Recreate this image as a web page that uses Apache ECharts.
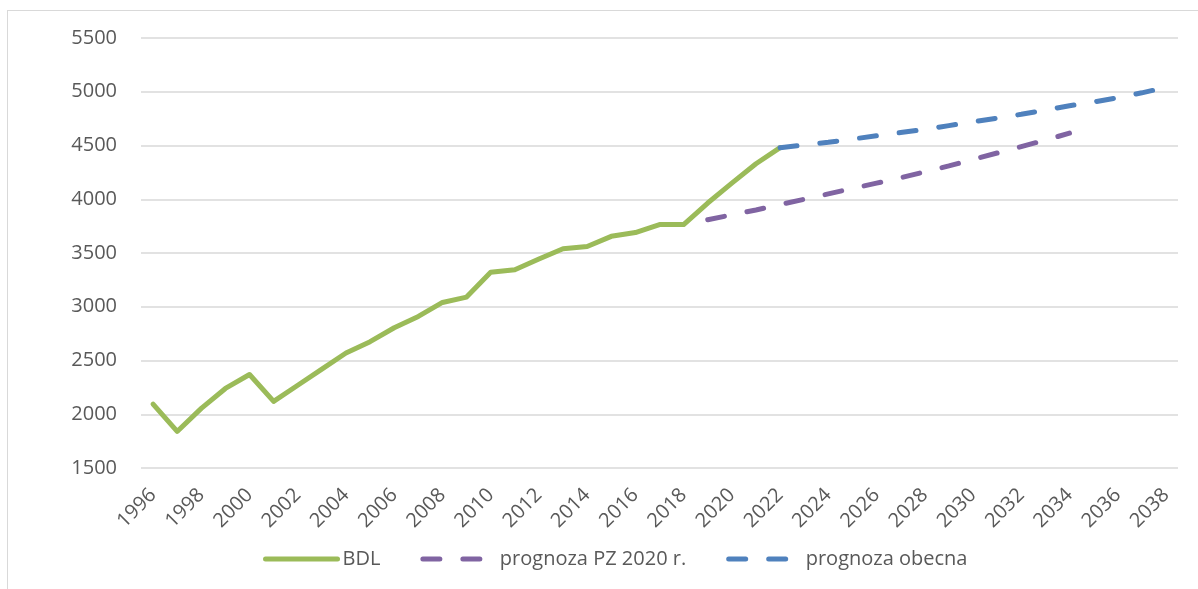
<!DOCTYPE html>
<html lang="pl">
<head>
    <meta charset="UTF-8">
    <title>BDL i prognozy</title>
    <script src="https://cdn.jsdelivr.net/npm/echarts@6/dist/echarts.min.js"></script>
    <style>
        html, body { margin: 0; padding: 0; background: #fff; }
        #frame { position: absolute; left: 7px; top: 10px; width: 1200px; height: 600px; border: 1px solid #d9d9d9; }
        #main { position: absolute; left: 0; top: 0; width: 1198px; height: 589px; }
    </style>
</head>
<body>
<div id="frame"></div>
<div id="main"></div>
<script type="text/javascript">
    // lata 1996-2038
    var years = [];
    for (var y = 1996; y <= 2038; y++) years.push(String(y));

    // dane historyczne (BDL) 1996-2022
    var bdl = [2095, 1840, 2055, 2240, 2370, 2120, 2270, 2420, 2570, 2675, 2805, 2910, 3040, 3090,
               3320, 3345, 3445, 3540, 3560, 3655, 3690, 3765, 3765, 3965, 4150, 4330, 4480];

    // prognoza PZ 2020 r. 2019-2034
    var pz2020 = [3810, 3855, 3900, 3950, 4000, 4050, 4100, 4150, 4200, 4255, 4310, 4370, 4430, 4490, 4550, 4615];

    // prognoza obecna 2022-2038
    var obecna = [4480, 4505, 4530, 4560, 4590, 4620, 4650, 4685, 4720, 4755, 4790, 4830, 4870, 4905, 4945, 4990, 5040];

    function place(values, startYear) {
        var out = [];
        for (var i = 0; i < years.length; i++) {
            var idx = Number(years[i]) - startYear;
            out.push(idx >= 0 && idx < values.length ? values[idx] : null);
        }
        return out;
    }

    var myChart = echarts.init(document.getElementById('main'));
    var font = '"Open Sans", "Noto Sans", sans-serif';
    var option = {
        animation: false,
        grid: { left: 141, right: 20, top: 38, bottom: 121 },
        legend: {
            top: 544,
            left: 258,
            itemWidth: 72,
            itemHeight: 14,
            itemGap: 40,
            itemStyle: { opacity: 0 },
            lineStyle: { width: 5, cap: 'round' },
            textStyle: { fontFamily: font, fontSize: 20, color: '#595959' },
            data: ['BDL', 'prognoza PZ 2020 r.', 'prognoza obecna']
        },
        xAxis: {
            type: 'category',
            data: years,
            boundaryGap: true,
            axisLine: { show: false },
            axisTick: { show: false },
            axisLabel: {
                interval: 1,
                rotate: 45,
                margin: 24,
                fontFamily: font,
                fontSize: 20,
                color: '#595959'
            }
        },
        yAxis: {
            type: 'value',
            min: 1500,
            max: 5500,
            interval: 500,
            axisLine: { show: false },
            axisTick: { show: false },
            axisLabel: {
                margin: 24, fontFamily: font, fontSize: 20, color: '#595959',
                formatter: function (v) { return String(v); }
            },
            splitLine: { lineStyle: { color: '#d9d9d9', width: 1.5 } }
        },
        series: [
            {
                name: 'BDL',
                type: 'line',
                data: place(bdl, 1996),
                symbol: 'none',
                lineStyle: { color: '#9BBB59', width: 5, join: 'round', cap: 'round' },
                itemStyle: { color: '#9BBB59' }
            },
            {
                name: 'prognoza PZ 2020 r.',
                type: 'line',
                data: place(pz2020, 2019),
                symbol: 'none',
                lineStyle: { color: '#8064A2', width: 5, type: [17, 23], cap: 'round' },
                itemStyle: { color: '#8064A2' }
            },
            {
                name: 'prognoza obecna',
                type: 'line',
                data: place(obecna, 2022),
                symbol: 'none',
                lineStyle: { color: '#4F81BD', width: 5, type: [17, 23], cap: 'round' },
                itemStyle: { color: '#4F81BD' }
            }
        ]
    };
    myChart.setOption(option);
</script>
</body>
</html>
